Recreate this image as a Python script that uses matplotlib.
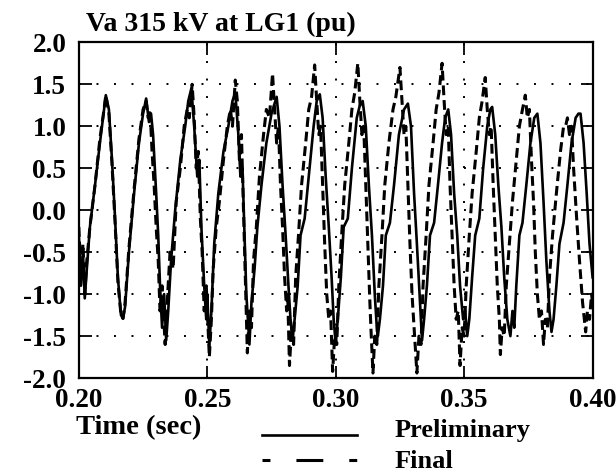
"""
Va 315 kV at LG1 (pu) - preliminary vs final simulation, 0.20-0.40 s
"""
import matplotlib
matplotlib.use('Agg')
import matplotlib.pyplot as plt
from matplotlib.lines import Line2D

plt.rcParams['font.family'] = ['Liberation Serif', 'DejaVu Serif']
plt.rcParams['font.weight'] = 'bold'

# Preliminary (solid)
t_prelim = [
    0.2000, 0.2008, 0.2016, 0.2023, 0.2031, 0.2043, 0.2063, 0.2082, 0.2098, 0.2105,
    0.2117, 0.2129, 0.2141, 0.2152, 0.2164, 0.2172, 0.2180, 0.2195, 0.2215, 0.2234,
    0.2250, 0.2262, 0.2273, 0.2281, 0.2289, 0.2301, 0.2309, 0.2316, 0.2324, 0.2332,
    0.2340, 0.2348, 0.2359, 0.2375, 0.2395, 0.2414, 0.2426, 0.2438, 0.2449, 0.2461,
    0.2469, 0.2477, 0.2488, 0.2496, 0.2500, 0.2508, 0.2516, 0.2527, 0.2543, 0.2563,
    0.2582, 0.2598, 0.2609, 0.2621, 0.2629, 0.2637, 0.2645, 0.2652, 0.2660, 0.2664,
    0.2672, 0.2684, 0.2695, 0.2711, 0.2730, 0.2750, 0.2770, 0.2781, 0.2793, 0.2805,
    0.2816, 0.2824, 0.2832, 0.2840, 0.2852, 0.2863, 0.2879, 0.2895, 0.2914, 0.2926,
    0.2938, 0.2949, 0.2961, 0.2973, 0.2984, 0.2992, 0.3000, 0.3008, 0.3020, 0.3031,
    0.3047, 0.3063, 0.3082, 0.3094, 0.3105, 0.3117, 0.3129, 0.3141, 0.3152, 0.3160,
    0.3164, 0.3172, 0.3184, 0.3195, 0.3211, 0.3227, 0.3246, 0.3266, 0.3281, 0.3293,
    0.3305, 0.3316, 0.3328, 0.3336, 0.3344, 0.3355, 0.3367, 0.3383, 0.3398, 0.3414,
    0.3426, 0.3438, 0.3449, 0.3461, 0.3473, 0.3484, 0.3496, 0.3504, 0.3512, 0.3520,
    0.3531, 0.3543, 0.3559, 0.3574, 0.3590, 0.3602, 0.3609, 0.3621, 0.3633, 0.3645,
    0.3656, 0.3668, 0.3680, 0.3688, 0.3695, 0.3703, 0.3715, 0.3727, 0.3742, 0.3758,
    0.3773, 0.3785, 0.3797, 0.3809, 0.3820, 0.3832, 0.3840, 0.3848, 0.3859, 0.3871,
    0.3887, 0.3902, 0.3918, 0.3934, 0.3945, 0.3953, 0.3965, 0.3977, 0.3988, 0.4000,
]
v_prelim = [
    -0.30, -0.90, -0.50, -1.05, -0.70, -0.20, 0.30, 0.80, 1.20, 1.37,
    1.20, 0.60, -0.10, -0.80, -1.25, -1.29, -1.15, -0.50, 0.20, 0.80,
    1.15, 1.33, 1.05, 1.15, 0.90, 0.20, -0.30, -0.90, -1.40, -1.00,
    -1.55, -1.20, -0.60, 0.00, 0.60, 1.00, 1.30, 1.45, 1.00, 0.40,
    0.60, -0.20, -0.90, -1.30, -1.00, -1.62, -1.20, -0.40, 0.20, 0.70,
    1.00, 1.30, 1.40, 0.90, 0.40, 0.50, -0.30, -1.00, -1.40, -1.60,
    -1.10, -0.70, -0.20, 0.30, 0.80, 1.15, 1.35, 1.00, 0.30, -0.30,
    -0.90, -1.30, -1.55, -1.30, -0.90, -0.30, -0.10, 0.40, 1.00, 1.30,
    1.38, 1.10, 0.40, -0.20, -0.80, -1.30, -1.60, -1.30, -0.80, -0.20,
    -0.10, 0.50, 1.10, 1.25, 1.30, 1.00, 0.30, -0.30, -1.00, -1.40,
    -1.50, -1.30, -0.90, -0.30, -0.15, 0.30, 0.90, 1.20, 1.27, 1.00,
    0.20, -0.40, -1.10, -1.55, -1.30, -0.90, -0.30, -0.15, 0.30, 0.80,
    1.10, 1.20, 0.90, 0.20, -0.30, -0.90, -1.30, -1.20, -1.50, -1.30,
    -0.80, -0.30, -0.10, 0.50, 1.00, 1.20, 1.23, 0.90, 0.30, -0.20,
    -0.80, -1.30, -1.50, -1.20, -1.40, -0.90, -0.30, -0.15, 0.30, 0.80,
    1.10, 1.15, 0.80, 0.10, -0.60, -1.20, -1.45, -1.30, -0.90, -0.40,
    -0.15, 0.30, 0.80, 1.10, 1.15, 1.15, 0.80, 0.20, -0.40, -0.80,
]

# Final (dashed)
t_final = [
    0.2000, 0.2008, 0.2016, 0.2023, 0.2031, 0.2043, 0.2063, 0.2082, 0.2098, 0.2105,
    0.2117, 0.2129, 0.2141, 0.2152, 0.2164, 0.2172, 0.2180, 0.2195, 0.2215, 0.2234,
    0.2250, 0.2262, 0.2270, 0.2277, 0.2285, 0.2293, 0.2301, 0.2309, 0.2316, 0.2324,
    0.2336, 0.2344, 0.2355, 0.2367, 0.2379, 0.2395, 0.2410, 0.2422, 0.2430, 0.2441,
    0.2449, 0.2457, 0.2465, 0.2473, 0.2480, 0.2488, 0.2496, 0.2508, 0.2516, 0.2523,
    0.2535, 0.2547, 0.2563, 0.2578, 0.2590, 0.2598, 0.2609, 0.2617, 0.2625, 0.2633,
    0.2641, 0.2648, 0.2656, 0.2664, 0.2672, 0.2680, 0.2691, 0.2703, 0.2719, 0.2730,
    0.2742, 0.2754, 0.2762, 0.2770, 0.2777, 0.2785, 0.2793, 0.2801, 0.2809, 0.2813,
    0.2820, 0.2828, 0.2836, 0.2844, 0.2855, 0.2867, 0.2883, 0.2895, 0.2906, 0.2918,
    0.2926, 0.2934, 0.2941, 0.2949, 0.2957, 0.2965, 0.2973, 0.2980, 0.2988, 0.2996,
    0.3004, 0.3012, 0.3023, 0.3035, 0.3051, 0.3063, 0.3074, 0.3086, 0.3094, 0.3102,
    0.3109, 0.3117, 0.3125, 0.3133, 0.3137, 0.3145, 0.3152, 0.3160, 0.3168, 0.3180,
    0.3191, 0.3207, 0.3223, 0.3234, 0.3250, 0.3258, 0.3266, 0.3273, 0.3281, 0.3289,
    0.3297, 0.3305, 0.3316, 0.3324, 0.3332, 0.3340, 0.3352, 0.3363, 0.3379, 0.3391,
    0.3402, 0.3414, 0.3422, 0.3430, 0.3438, 0.3445, 0.3453, 0.3461, 0.3469, 0.3477,
    0.3484, 0.3492, 0.3500, 0.3508, 0.3520, 0.3531, 0.3547, 0.3559, 0.3570, 0.3582,
    0.3590, 0.3598, 0.3605, 0.3613, 0.3621, 0.3629, 0.3637, 0.3641, 0.3648, 0.3656,
    0.3664, 0.3676, 0.3688, 0.3703, 0.3715, 0.3727, 0.3738, 0.3746, 0.3754, 0.3762,
    0.3770, 0.3777, 0.3785, 0.3793, 0.3801, 0.3809, 0.3816, 0.3824, 0.3832, 0.3844,
    0.3859, 0.3875, 0.3887, 0.3895, 0.3902, 0.3910, 0.3918, 0.3926, 0.3938, 0.3949,
    0.3961, 0.3973, 0.3980, 0.3988, 0.3996, 0.4000,
]
v_final = [
    -0.20, -0.80, -0.40, -1.00, -0.60, -0.20, 0.30, 0.85, 1.20, 1.37,
    1.15, 0.55, -0.15, -0.85, -1.25, -1.29, -1.10, -0.45, 0.25, 0.85,
    1.20, 1.30, 1.10, 1.20, 0.70, 0.30, -0.20, -0.60, -1.20, -0.90,
    -1.60, -1.10, -0.50, -0.70, 0.10, 0.50, 1.00, 1.20, 1.10, 1.50,
    1.10, 0.50, 0.70, -0.10, -0.50, -1.20, -0.90, -1.75, -1.30, -0.70,
    -0.20, 0.10, 0.60, 1.00, 1.20, 1.00, 1.55, 1.30, 0.60, 0.90,
    0.00, -0.80, -1.70, -1.20, -1.40, -0.60, -0.20, 0.40, 0.90, 1.20,
    1.10, 1.63, 1.20, 0.80, 1.00, 0.30, -0.20, -0.80, -1.20, -1.00,
    -1.85, -1.40, -1.60, -0.80, -0.30, 0.30, 0.80, 1.20, 1.35, 1.73,
    1.30, 0.90, 1.00, 0.30, -0.40, -1.00, -1.30, -1.20, -1.92, -1.50,
    -1.60, -0.90, -0.30, 0.30, 0.80, 1.20, 1.40, 1.75, 1.30, 0.90,
    1.00, 0.30, -0.40, -1.10, -1.40, -1.94, -1.50, -1.60, -0.90, -0.30,
    0.30, 0.80, 1.20, 1.35, 1.70, 1.30, 0.90, 1.00, 0.30, -0.40,
    -1.00, -1.40, -1.94, -1.50, -1.60, -0.90, -0.30, 0.30, 0.80, 1.20,
    1.40, 1.75, 1.30, 0.90, 1.00, 0.30, -0.30, -0.90, -1.30, -1.20,
    -1.85, -1.40, -1.50, -0.90, -0.30, 0.20, 0.70, 1.10, 1.30, 1.58,
    1.20, 0.90, 1.00, 0.30, -0.30, -0.90, -1.30, -1.72, -1.40, -1.50,
    -0.90, -0.40, 0.10, 0.60, 1.00, 1.20, 1.37, 1.10, 1.20, 0.60,
    0.10, -0.50, -1.00, -1.30, -1.20, -1.60, -1.30, -1.40, -0.80, -0.30,
    0.20, 0.70, 1.00, 1.00, 1.10, 0.90, 1.00, 0.50, -0.10, -0.60,
    -1.10, -1.45, -1.20, -1.30, -1.00, -1.10,
]

x_ticks = [0.20, 0.25, 0.30, 0.35, 0.40]
y_ticks = [-2.0, -1.5, -1.0, -0.5, 0.0, 0.5, 1.0, 1.5, 2.0]
series_names = ['Preliminary', 'Final']

FS = 19.5

fig = plt.figure(figsize=(6.16, 4.75), dpi=100)
ax = fig.add_axes([0.128, 0.204, 0.834, 0.707])

ax.plot(t_prelim, v_prelim, color='black', lw=1.9)
ax.plot(t_final, v_final, color='black', lw=2.2, dashes=(3.2, 1.6))

ax.set_xlim(0.20, 0.40)
ax.set_ylim(-2.0, 2.0)
ax.set_xticks(x_ticks)
ax.set_xticklabels([f'{v:.2f}' for v in x_ticks])
ax.set_yticks(y_ticks)
ax.set_yticklabels([f'{v:.1f}' for v in y_ticks])
ax.tick_params(direction='in', length=9, width=1.3, top=True, right=True,
               labelsize=FS)
ax.tick_params(axis='y', pad=9)
ax.tick_params(axis='x', pad=7)
for lbl in ax.get_xticklabels() + ax.get_yticklabels():
    lbl.set_fontweight('bold')

# dotted grid, only at interior positions
for yv in y_ticks[1:-1]:
    ax.axhline(yv, color='black', lw=1.4, ls=(0, (1, 8)))
for xv in x_ticks[1:-1]:
    ax.axvline(xv, color='black', lw=1.4, ls=(0, (1, 8)))

for sp in ax.spines.values():
    sp.set_linewidth(1.6)

fig.text(86 / 616, 1 - 24 / 475, 'Va 315 kV at LG1 (pu)', fontsize=20,
         fontweight='bold', ha='left', va='center')
fig.text(76 / 616, 1 - 428 / 475, 'Time (sec)', fontsize=FS + 1,
         fontweight='bold', ha='left', va='center')

# legend drawn by hand: sample line + label, two rows
legend_rows = [(435, 431, dict(lw=1.9)),
               (460, 461, dict(lw=2.2, dashes=(2.6, 8.5, 8.8, 8.5)))]
for name, (yline, ytext, style) in zip(series_names, legend_rows):
    fig.add_artist(Line2D([262 / 616, 357 / 616], [1 - yline / 475] * 2,
                          transform=fig.transFigure, color='black', **style))
    fig.text(395 / 616, 1 - ytext / 475, name, fontsize=FS - 0.5,
             fontweight='bold', ha='left', va='center')

fig.savefig('out.png', dpi=100)
